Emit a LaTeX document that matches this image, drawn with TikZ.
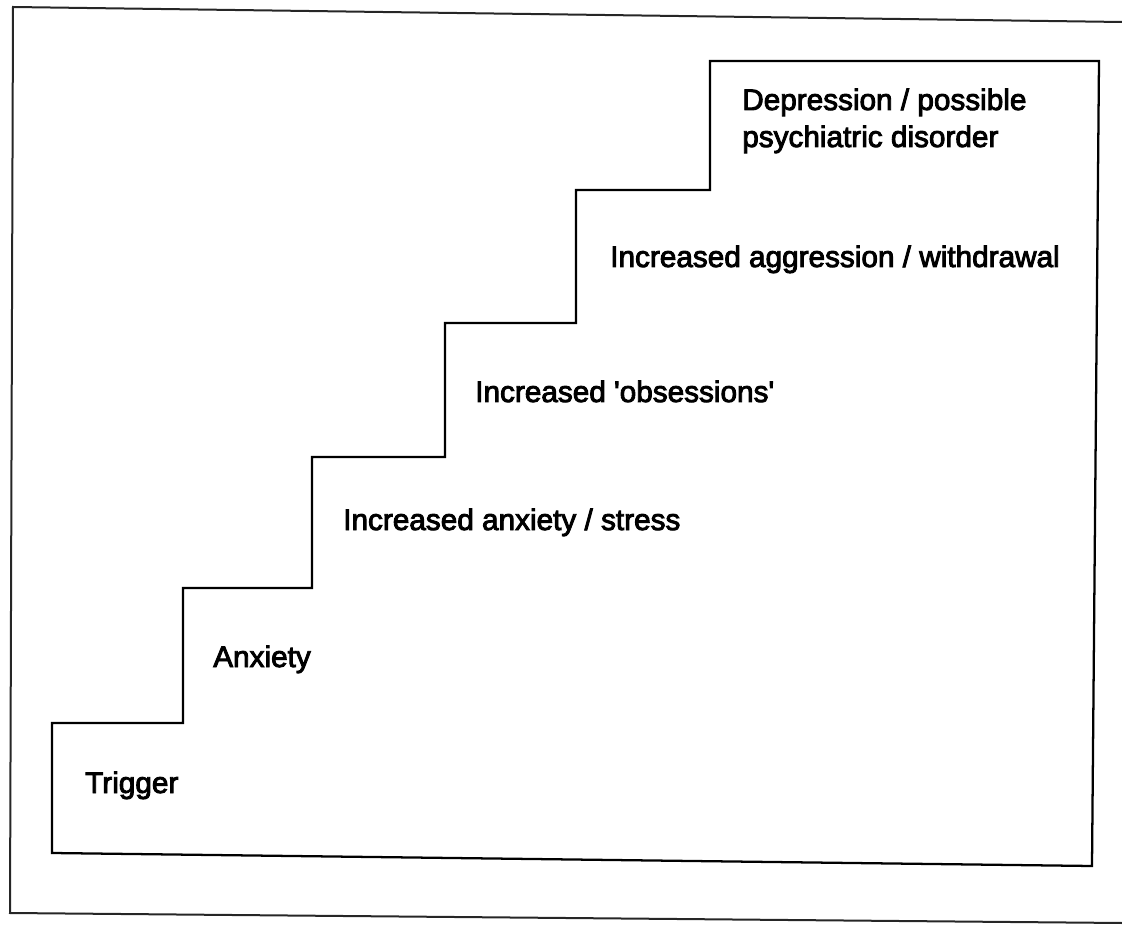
\documentclass[tikz,border=0pt]{standalone}
\usepackage{fontspec}
\setmainfont{Liberation Sans}[UprightFeatures={FakeBold=3}]
\begin{document}
\begin{tikzpicture}[x=0.75pt,y=-0.75pt,
  stairline/.style={line width=1.7pt,black,line join=miter},
  frameline/.style={line width=1.5pt,black!85},
  lbl/.style={anchor=base west,inner sep=0pt,font=\fontsize{22.3}{27.5}\selectfont}]
\useasboundingbox (0,0) rectangle (1122,927);
% scan frame (left, top, bottom)
\draw[frameline] (1122,22) -- (13,7) -- (10,913) -- (1122,923);
% staircase
\draw[stairline] (52,853) -- (52,723) -- (183,723) -- (183,588) -- (312,588)
  -- (312,457) -- (445,457) -- (445,323) -- (576,323) -- (576,190)
  -- (710,190) -- (710,61) -- (1099,61) -- (1092,866) -- cycle;
% labels
\node[lbl] (trig) at (85,793) {Trigger};
\node[lbl] (anx) at (213,667) {Anxiety};
\node[lbl] (ias) at (343,530) {Increased anxiety / stress};
\node[lbl] (iob) at (475,402) {Increased \textquotesingle obsessions\textquotesingle};
\node[lbl] (iag) at (610,267) {Increased aggression / withdrawal};
\node[lbl] (dep) at (742,110) {Depression / possible};
\node[lbl] (psy) at (742,147) {psychiatric disorder};
\end{tikzpicture}
\end{document}
